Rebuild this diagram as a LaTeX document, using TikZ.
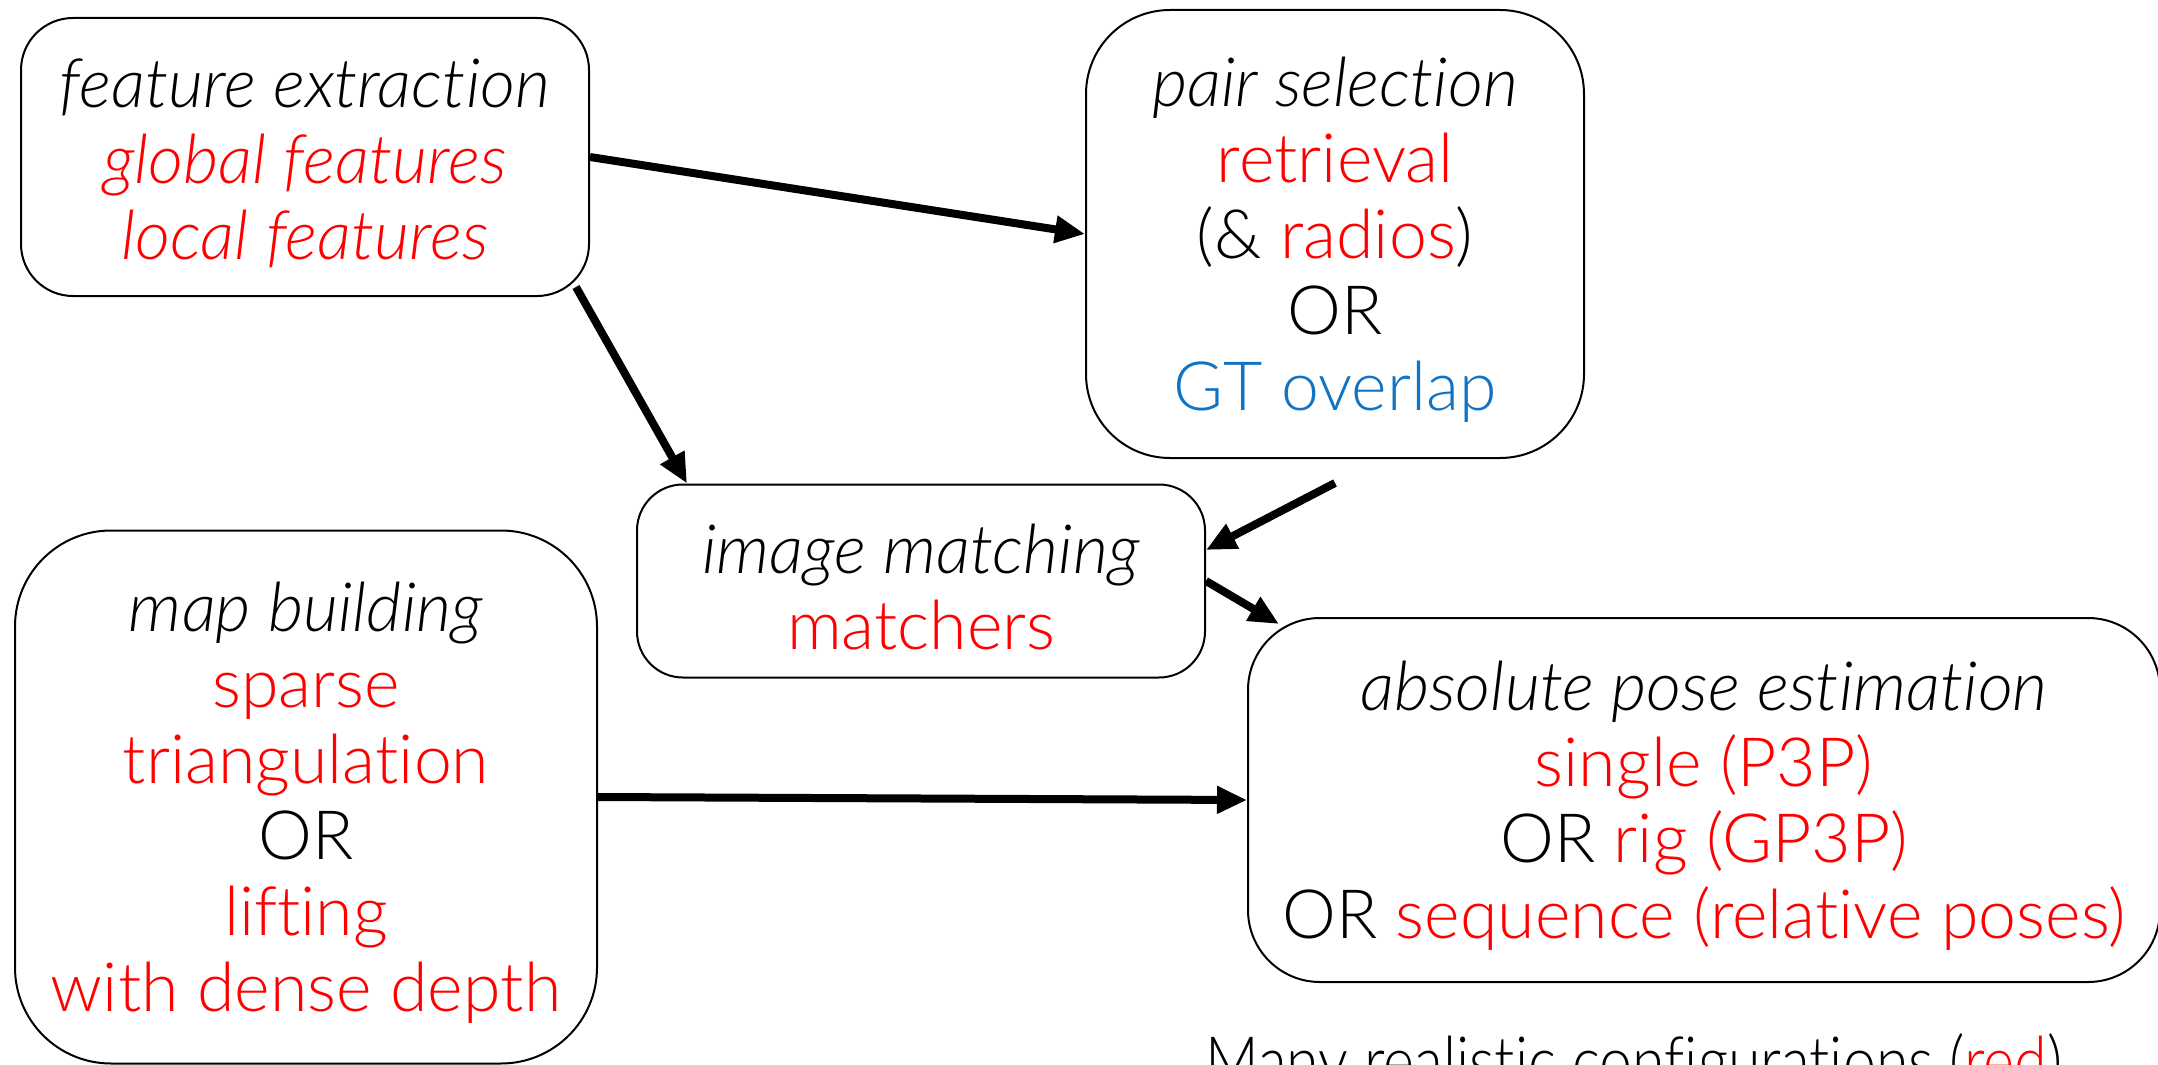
\documentclass[tikz,border=0pt]{standalone}
\usepackage{fontspec}
\setmainfont{Lato Light}[ItalicFont={Lato Light Italic}, Ligatures=NoCommon]
\newfontfamily\notefont{Lato Light}[FakeStretch=0.87, Ligatures=NoCommon]
\usetikzlibrary{arrows.meta,calc}
\definecolor{hl}{RGB}{255,0,0}
\definecolor{gt}{RGB}{16,115,195}
% italic title line of a stage; the strut gives the block a little extra head room
\newcommand\stagehead[1]{\rule{0pt}{30.5pt}\textit{#1}}
\tikzset{
  stage/.style={draw=black, line width=1pt, fill=white, align=center, inner sep=0pt,
    font=\fontsize{34}{38}\selectfont},
  flow/.style={line width=4pt, -{Triangle[length=15pt,width=13pt]}},
}
\begin{document}
\begin{tikzpicture}[x=0.5pt,y=-0.5pt]
\useasboundingbox (0,0) rectangle (2158,1065);
\clip (0,0) rectangle (2158,1065);

% pipeline stages
\node[stage, minimum width=284pt, minimum height=139pt, rounded corners=26pt] (fe) at (305,157)
  {\stagehead{feature extraction}\\ \textcolor{hl}{\textit{global features}}\\ \textcolor{hl}{\textit{local features}}};
\node[stage, minimum width=249pt, minimum height=224pt, rounded corners=42pt] (ps) at (1335,234)
  {\stagehead{pair selection}\\ \textcolor{hl}{retrieval}\\ (\& \textcolor{hl}{radios})\\ OR\\ \textcolor{gt}{GT overlap}};
\node[stage, minimum width=284pt, minimum height=96.5pt, rounded corners=23pt] (im) at (921,581)
  {\stagehead{image matching}\\ \textcolor{hl}{matchers}};
\node[stage, minimum width=291pt, minimum height=266.5pt, rounded corners=48pt] (mb) at (306,797)
  {\stagehead{map building}\\ \textcolor{hl}{sparse}\\ \textcolor{hl}{triangulation}\\ OR\\ \textcolor{hl}{lifting}\\ \textcolor{hl}{with dense depth}};
\node[stage, minimum width=456pt, minimum height=182pt, rounded corners=36pt] (ape) at (1704,800)
  {\stagehead{absolute pose estimation}\\ \textcolor{hl}{single (P3P)}\\ OR \textcolor{hl}{rig (GP3P)}\\ OR \textcolor{hl}{sequence (relative poses)}};

% caption
\node[font=\notefont\fontsize{34}{38}\selectfont, anchor=base, inner sep=0pt] (note) at (1634,1085)
  {Many realistic configurations (\textcolor{hl}{red})};

% connectors
\coordinate (psout) at ($(ps.south)+(0,24)$);
\draw[flow] (fe.east) -- (ps.west);
\draw[flow] ($(fe.south east)+(-14,-10)$) -- ($(im.north west)+(51,0)$);
\draw[flow] (psout) -- ($(im.east)+(0,-31)$);
\draw[flow] (im.east) -- ($(ape.north west)+(32,7)$);
\draw[flow] (mb.east) -- (ape.west);
\end{tikzpicture}
\end{document}
